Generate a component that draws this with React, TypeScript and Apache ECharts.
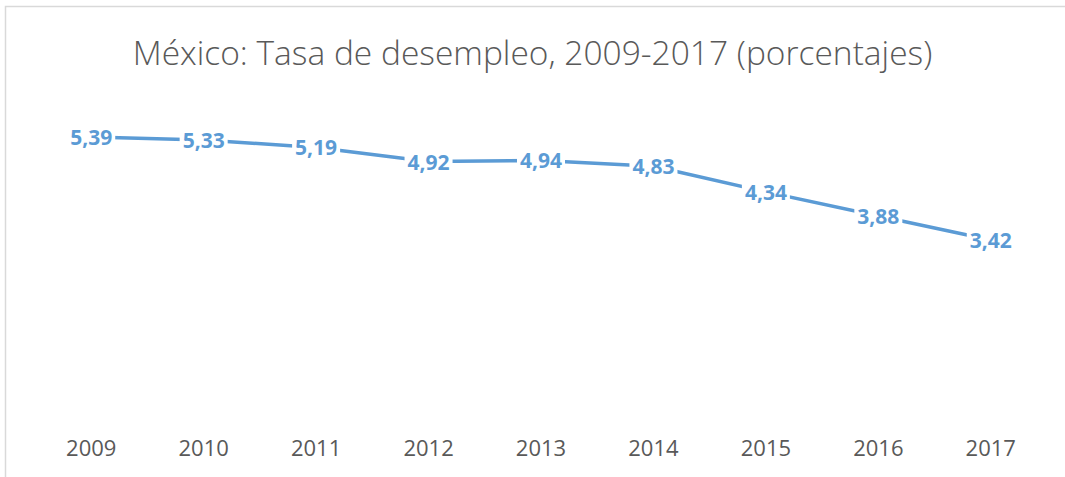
import React, { useEffect, useRef } from "react";
import * as echarts from "echarts";

const years = ["2009", "2010", "2011", "2012", "2013", "2014", "2015", "2016", "2017"];
const rates = [5.39, 5.33, 5.19, 4.92, 4.94, 4.83, 4.34, 3.88, 3.42];
const titleText = "México: Tasa de desempleo, 2009-2017 (porcentajes)";

export default function App() {
  const ref = useRef<HTMLDivElement>(null);
  useEffect(() => {
    if (!ref.current) return;
    const chart = echarts.init(ref.current, null, { renderer: "svg" });
    chart.setOption({
      animation: false,
      backgroundColor: "#ffffff",
      title: {
        text: titleText,
        left: "center",
        top: 30,
        textStyle: {
          fontFamily: "Open Sans",
          fontWeight: 300,
          fontSize: 33.5,
          color: "#595959",
        },
      },
      graphic: [
        {
          type: "rect",
          shape: { x: 5.5, y: 6.5, width: 1080, height: 490 },
          style: { fill: "none", stroke: "#d9d9d9", lineWidth: 1.5 },
          silent: true,
        },
      ],
      grid: { left: 35, right: 18, top: 105, bottom: 58 },
      xAxis: {
        type: "category",
        data: years,
        boundaryGap: true,
        axisLine: { show: false },
        axisTick: { show: false },
        axisLabel: {
          fontFamily: "Open Sans",
          fontSize: 22,
          color: "#595959",
          margin: 17,
        },
      },
      yAxis: {
        type: "value",
        min: 0,
        max: 6,
        show: false,
        splitLine: { show: false },
      },
      series: [
        {
          type: "line",
          data: rates,
          showSymbol: true,
          symbol: "circle",
          symbolSize: 2,
          lineStyle: { color: "#5b9bd5", width: 3.5 },
          itemStyle: { color: "#5b9bd5" },
          label: {
            show: true,
            position: "inside",
            formatter: (p: any) => p.value.toFixed(2).replace(".", ","),
            fontFamily: "Open Sans",
            fontWeight: "bold",
            fontSize: 21,
            color: "#5b9bd5",
            backgroundColor: "#ffffff",
            padding: [0, 3],
          },
        },
      ],
    });
    return () => chart.dispose();
  }, []);
  return (
    <div
      ref={ref}
      style={{ position: "absolute", left: 0, top: 0, width: 1065, height: 477 }}
    />
  );
}
